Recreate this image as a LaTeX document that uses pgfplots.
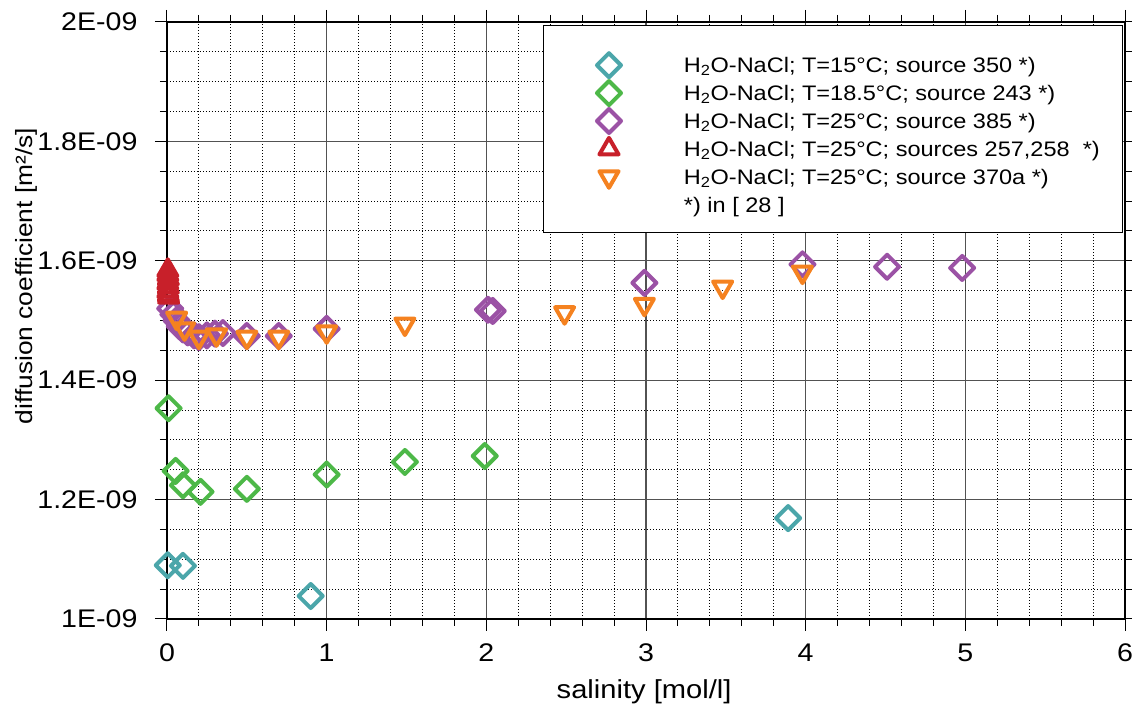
\documentclass[border=0pt]{standalone}
\usepackage{pgfplots}
\pgfplotsset{compat=1.18}
\usepackage{fontspec}
\setmainfont{Liberation Sans}[FakeStretch=1.12]
\definecolor{cteal}{RGB}{75,166,170}
\definecolor{cgreen}{RGB}{77,184,72}
\definecolor{cpurple}{RGB}{155,82,165}
\definecolor{cred}{RGB}{200,32,42}
\definecolor{corange}{RGB}{245,130,32}
\begin{document}
\begin{tikzpicture}
\begin{axis}[
  name=ax,
  scale only axis, width=958pt, height=597pt,
  xmin=0, xmax=6, ymin=1, ymax=2,
  xtick={0,1,2,3,4,5,6},
  ytick={1,1.2,1.4,1.6,1.8,2},
  yticklabels={1E-09,1.2E-09,1.4E-09,1.6E-09,1.8E-09,2E-09},
  minor x tick num=4, minor y tick num=3,
  grid=both,
  major grid style={draw=black!68, line width=1.3pt},
  minor grid style={draw=black, line width=1pt, dash pattern=on 1.2pt off 1.8pt},
  tick align=outside, tick pos=both,
  major tick length=12pt, minor tick length=7pt,
  every tick/.style={black, line width=1pt},
  axis line style={line width=1.5pt},
  /pgf/number format/assume math mode=true,
  ticklabel style={font=\fontsize{25.5}{29}\selectfont},
  xticklabel style={yshift=-9pt},
  yticklabel style={xshift=-14pt},
  xlabel={salinity [mol/l]},
  ylabel={diffusion coefficient [m²/s]},
  xlabel style={font=\fontsize{26}{30}\selectfont, at={(axis description cs:0.498,-0.1223)}, anchor=center},
  ylabel style={font=\fontsize{23.5}{27}\selectfont, at={(axis description cs:-0.147,0.5745)}, anchor=center},
  only marks,
  every axis plot/.append style={line width=4pt, line join=round},
  legend image code/.code={\path[draw=none,fill=none] (0pt,0pt) rectangle (110pt,0pt);
    \draw[#1,mark repeat=2,mark phase=2] plot coordinates {(0pt,2pt) (55pt,2pt) (110pt,2pt)};},
  legend cell align=left,
  legend style={at={(0.9812,0.9485)}, anchor=north east, draw=none, fill=none,
    inner sep=0pt, row sep=-0.6pt, column sep=13pt,
    font=\fontsize{21}{25}\selectfont,
    nodes={text height=16pt, text depth=5pt, inner ysep=3.75pt, inner xsep=7pt}},
]
\draw[line width=1pt, fill=white] (rel axis cs:0.3935,0.6482) rectangle (rel axis cs:0.9969,0.9933);
\addplot[mark=square, mark size=8.5pt, mark options={rotate=45, draw=cteal, line width=4pt}] coordinates {
(0.005,1.090) (0.10,1.089) (0.90,1.0385) (3.89,1.169)};
\addlegendentry{H\textsubscript{2}O-NaCl; T=15°C; source 350 *)}
\addplot[mark=square, mark size=8.5pt, mark options={rotate=45, draw=cgreen, line width=4pt}] coordinates {
(0.01,1.353) (0.054,1.248) (0.10,1.224) (0.21,1.213) (0.50,1.218) (1.0,1.242) (1.49,1.263) (1.99,1.273)};
\addlegendentry{H\textsubscript{2}O-NaCl; T=18.5°C; source 243 *)}
\addplot[mark=square, mark size=8.5pt, mark options={rotate=45, draw=cpurple, line width=4pt}] coordinates {
(0.02,1.520) (0.04,1.510) (0.06,1.500) (0.08,1.490) (0.10,1.485) (0.13,1.480) (0.17,1.475) (0.20,1.472)
(0.25,1.475) (0.30,1.478) (0.35,1.479) (0.50,1.474) (0.70,1.474) (1.0,1.486)
(2.01,1.518) (2.04,1.516) (2.99,1.563) (3.98,1.594) (4.51,1.590) (4.98,1.588)};
\addlegendentry{H\textsubscript{2}O-NaCl; T=25°C; source 385 *)}
\addplot[mark=triangle, mark size=11pt, mark options={draw=cred, line width=4pt}] coordinates {
(0.005,1.584) (0.005,1.577) (0.008,1.570) (0.005,1.563) (0.008,1.556) (0.005,1.549) (0.008,1.543) (0.01,1.539)};
\addlegendentry{H\textsubscript{2}O-NaCl; T=25°C; sources 257,258 \ *)}
\addplot[mark=triangle, mark size=11pt, mark options={rotate=180, draw=corange, line width=4pt}] coordinates {
(0.06,1.504) (0.11,1.486) (0.20,1.472) (0.31,1.476) (0.50,1.472) (0.70,1.472) (1.0,1.481) (1.49,1.494)
(2.49,1.513) (2.99,1.527) (3.48,1.556) (3.98,1.581)};
\addlegendentry{H\textsubscript{2}O-NaCl; T=25°C; source 370a *)}
\addlegendimage{empty legend}
\addlegendentry{*) in [ 28 ]}
\end{axis}
\pgfresetboundingbox
\path[use as bounding box] ([xshift=-167pt,yshift=-94pt]ax.south west) rectangle ([xshift=7pt,yshift=22pt]ax.north east);
\end{tikzpicture}
\end{document}
